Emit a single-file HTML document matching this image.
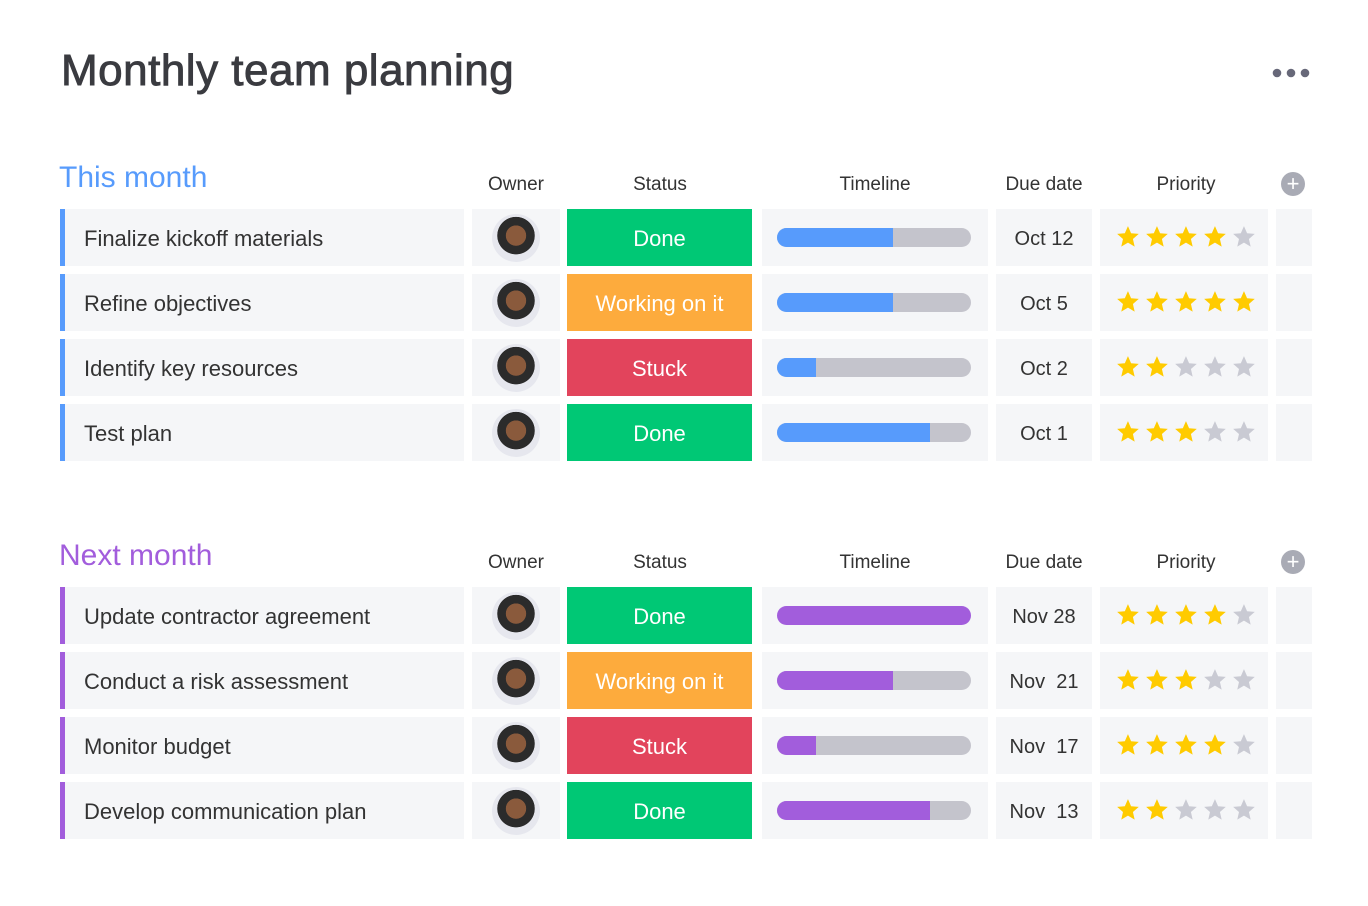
<!DOCTYPE html>
<html><head><meta charset="utf-8">
<style>
body{margin:0;width:1368px;height:906px;background:#fff;font-family:"Liberation Sans",sans-serif;position:relative;overflow:hidden;color:#333}
.a{position:absolute}
.cell{position:absolute;background:#f5f6f8}
.hdr{position:absolute;font-size:19px;color:#333;text-align:center;transform:translateX(-50%);white-space:nowrap}
</style></head><body>
<div class="a" style="left:61px;top:46px;font-size:44px;color:#3a3b40;letter-spacing:0.5px;-webkit-text-stroke:0.9px #3a3b40">Monthly team planning</div>
<div class="a" style="left:1272px;top:66px;width:40px;height:12px">
<svg width="40" height="12"><circle cx="5" cy="6" r="4.3" fill="#676879"/><circle cx="19" cy="6" r="4.3" fill="#676879"/><circle cx="33" cy="6" r="4.3" fill="#676879"/></svg></div>
<div id="board"></div>
<script>
const groupTitles=["This month","Next month"];
const groupColors=["#579bfc","#a25ddc"];
const taskNames=[["Finalize kickoff materials","Refine objectives","Identify key resources","Test plan"],
["Update contractor agreement","Conduct a risk assessment","Monitor budget","Develop communication plan"]];
const statuses=[["Done","Working on it","Stuck","Done"],["Done","Working on it","Stuck","Done"]];
const progress=[[0.6,0.6,0.2,0.79],[1.0,0.6,0.2,0.79]];
const dueDates=[["Oct 12","Oct 5","Oct 2","Oct 1"],["Nov 28","Nov  21","Nov  17","Nov  13"]];
const priority=[[4,5,2,3],[4,3,4,2]];
const headers=["Owner","Status","Timeline","Due date","Priority"];
const statusColor={"Done":"#00c875","Working on it":"#fdab3d","Stuck":"#e2445c"};
const b=document.getElementById('board');
const groupTop=[209,587], pitch=65, rh=57;
const hx=[516,660,875,1044,1186];
function mk(cls,style,html){const d=document.createElement('div');d.className=cls;d.style.cssText=style;if(html!==undefined)d.innerHTML=html;b.appendChild(d);return d;}
const starPath="M12 2l2.9 6.6 7.1.6-5.4 4.7 1.6 7L12 17.3 5.8 20.9l1.6-7L2 9.2l7.1-.6z";
groupTitles.forEach((g,gi)=>{
  const t0=groupTop[gi];
  let e=mk('a',`left:59px;top:${t0-48}px;font-size:30px;color:${groupColors[gi]}`,g);
  
  
  headers.forEach((h,hi)=>{
    let d=mk('hdr',`left:${hx[hi]}px;top:${t0-35}px`,h);
    
    
  });
  let p=mk('a',`left:1281px;top:${t0-37}px;width:24px;height:24px;border-radius:50%;background:#a9abb5;color:#fff;font-size:22px;line-height:23px;text-align:center`,'+');
  
  
  taskNames[gi].forEach((n,ri)=>{
    const y=t0+ri*pitch;
    let c=mk('cell',`left:60px;top:${y}px;width:404px;height:${rh}px;border-left:5px solid ${groupColors[gi]};box-sizing:border-box;font-size:22px;line-height:${rh+2}px;padding-left:19px`,n);
    
    
    let o=mk('cell',`left:472px;top:${y}px;width:88px;height:${rh}px`);
    
    
    let av=document.createElement('div');
    av.style.cssText='position:absolute;left:20px;top:5px;width:48px;height:48px;border-radius:50%;background:radial-gradient(circle at 50% 45%,#8a5a3c 0 28%,#2b2b2b 29% 52%,#e6e7ee 53%)';
    
    
    o.appendChild(av);
    const st=statuses[gi][ri];
    let s=mk('a',`left:567px;top:${y}px;width:185px;height:${rh}px;background:${statusColor[st]};color:#fff;font-size:22px;line-height:${rh+2}px;text-align:center`,st);
    
    
    let tl=mk('cell',`left:762px;top:${y}px;width:226px;height:${rh}px`);
    
    
    let track=document.createElement('div');
    track.style.cssText=`position:absolute;left:15px;top:19px;width:194px;height:19px;border-radius:10px;background:#c4c4cc;overflow:hidden`;
    
    
    let fill=document.createElement('div');
    fill.style.cssText=`height:100%;width:${progress[gi][ri]*194}px;background:${gi==0?'#579bfc':'#a25ddc'}`;
    
    
    track.appendChild(fill);tl.appendChild(track);
    let dd=mk('cell',`left:996px;top:${y}px;width:96px;height:${rh}px;font-size:20px;line-height:${rh+3}px;text-align:center;white-space:pre`,dueDates[gi][ri]);
    
    
    let pr=mk('cell',`left:1100px;top:${y}px;width:168px;height:${rh}px`);
    
    
    let svg='<svg width="168" height="57">';
    for(let k=0;k<5;k++){svg+=`<path transform="translate(${15+k*29},15) scale(1.08)" d="${starPath}" fill="${k<priority[gi][ri]?'#ffcb00':'#c9cad3'}"/>`;}
    pr.innerHTML=svg+'</svg>';
    let ex=mk('cell',`left:1276px;top:${y}px;width:36px;height:${rh}px`);
    
    
  });
});
</script>
</body></html>
